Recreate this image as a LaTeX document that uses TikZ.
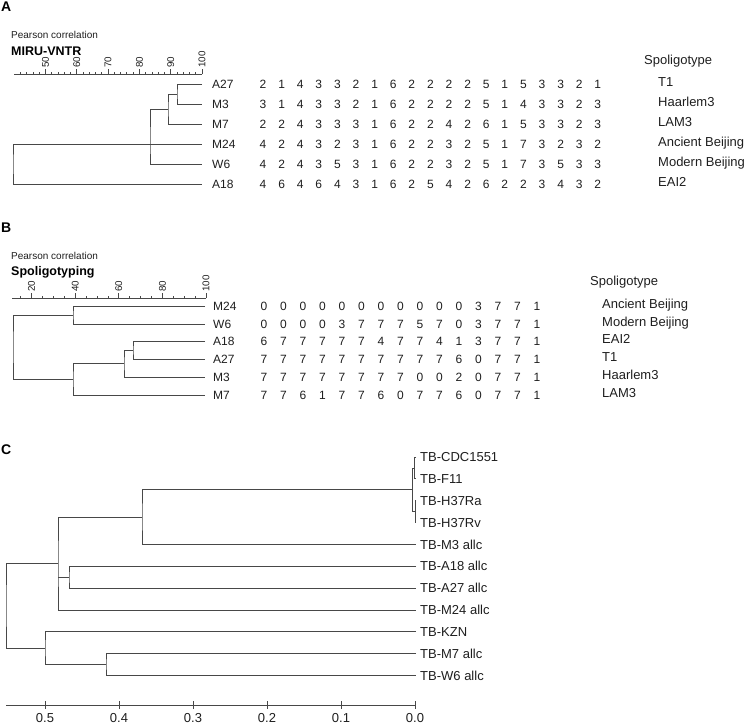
\documentclass[tikz,border=0pt]{standalone}
\usepackage{fontspec}
\setmainfont{Liberation Sans}
\usepackage{xcolor}
\definecolor{treecol}{RGB}{72,72,72}
\definecolor{inkcol}{RGB}{30,30,30}
\newcommand{\fsz}[1]{\fontsize{#1}{#1}\selectfont}

\begin{document}
\begin{tikzpicture}[x=1pt, y=-1pt,
  tree/.style={treecol, line width=0.8pt},
  panel/.style={anchor=west, inner sep=0pt, font=\bfseries\fsz{14}, text=black},
  note/.style={anchor=west, inner sep=0pt, font=\fsz{10}, text=inkcol},
  heading/.style={anchor=west, inner sep=0pt, font=\bfseries\fsz{12.5}, text=black},
  ticklbl/.style={anchor=west, rotate=90, inner sep=0pt, font=\fsz{9.8}, text=inkcol},
  leaf/.style={anchor=base west, inner sep=0pt, font=\fsz{12}, text=inkcol},
  digit/.style={anchor=base, inner sep=0pt, font=\fsz{12}, text=inkcol},
  spol/.style={anchor=base west, inner sep=0pt, font=\fsz{13}, text=inkcol},
  scalelbl/.style={anchor=base, inner sep=0pt, font=\fsz{13}, text=inkcol}]

\useasboundingbox (0,0) rectangle (746,726);

% ------------------------------------------------------------------
% Panel A: MIRU-VNTR dendrogram (Pearson correlation)
% ------------------------------------------------------------------
\node[panel] (labA) at (1,7) {A};
\node[note] (pearA) at (11,35) {Pearson correlation};
\node[heading] (headA) at (11,51) {MIRU-VNTR};

\draw[tree] (14,74) -- (202,74);
\foreach \v in {42,44,...,100}
  \draw[tree] ({202-(100-\v)*3.13},74) -- ++(0,-2.5);
\foreach \v in {50,60,...,100}{
  \draw[tree] ({202-(100-\v)*3.13},74) -- ++(0,-5);
  \node[ticklbl] (tA\v) at ({202-(100-\v)*3.13},68) {\v};
}

\foreach \n/\y in {A27/84, M3/104, M7/124, M24/144, W6/164, A18/184}{
  \coordinate (ea\n) at (202,\y);
  \node[leaf] (la\n) at (212,\y+4.3) {\n};
}

\coordinate (ja1) at (177,94);
\coordinate (ja2) at (168,109);
\coordinate (ja3) at (150,144);
\coordinate (ja4) at (13,164);
\draw[tree] (eaA27) -| (ja1) |- (eaM3);
\draw[tree] (ja1) -| (ja2) |- (eaM7);
\draw[tree] (ja2) -| (ja3) |- (eaW6);
\draw[tree] (ja3) -- (eaM24);
\draw[tree] (ja3) -| (ja4) |- (eaA18);

% allele copy numbers, one row per isolate
\foreach \y/\vals in {
   84/{2,1,4,3,3,2,1,6,2,2,2,2,5,1,5,3,3,2,1},
  104/{3,1,4,3,3,2,1,6,2,2,2,2,5,1,4,3,3,2,3},
  124/{2,2,4,3,3,3,1,6,2,2,4,2,6,1,5,3,3,2,3},
  144/{4,2,4,3,2,3,1,6,2,2,3,2,5,1,7,3,2,3,2},
  164/{4,2,4,3,5,3,1,6,2,2,3,2,5,1,7,3,5,3,3},
  184/{4,6,4,6,4,3,1,6,2,5,4,2,6,2,2,3,4,3,2}}{
  \foreach \v [count=\i] in \vals
    \node[digit] (dA\y-\i) at ({263+(\i-1)*18.6},\y+4.3) {\v};
}

\node[spol] (spA) at (644,64) {Spoligotype};
\foreach \k/\y/\s in {1/84/T1, 2/104/Haarlem3, 3/124/LAM3,
                      4/144/Ancient Beijing, 5/164/Modern Beijing, 6/184/EAI2}
  \node[spol] (sA\k) at (658,\y+2.5) {\s};

% ------------------------------------------------------------------
% Panel B: spoligotyping dendrogram
% ------------------------------------------------------------------
\node[panel] (labB) at (1,228) {B};
\node[note] (pearB) at (11,256) {Pearson correlation};
\node[heading] (headB) at (11,272) {Spoligotyping};

\draw[tree] (12,298) -- (206,298);
\foreach \v in {15,20,...,100}
  \draw[tree] ({206-(100-\v)*2.18},298) -- ++(0,-2.5);
\foreach \v in {20,40,...,100}{
  \draw[tree] ({206-(100-\v)*2.18},298) -- ++(0,-5);
  \node[ticklbl] (tB\v) at ({206-(100-\v)*2.18},292) {\v};
}

\foreach \n/\y in {M24/306, W6/324, A18/341, A27/359, M3/377, M7/395}{
  \coordinate (eb\n) at (205,\y);
  \node[leaf] (lb\n) at (213,\y+4.3) {\n};
}

\coordinate (jb1) at (73,315);
\coordinate (jb2) at (133,350);
\coordinate (jb3) at (124,363.5);
\coordinate (jb4) at (73,379);
\coordinate (jb5) at (13,347);
\draw[tree] (ebM24) -| (jb1) |- (ebW6);
\draw[tree] (ebA18) -| (jb2) |- (ebA27);
\draw[tree] (jb2) -| (jb3) |- (ebM3);
\draw[tree] (jb3) -| (jb4) |- (ebM7);
\draw[tree] (jb1) -| (jb5) |- (jb4);

\foreach \y/\vals in {
  306/{0,0,0,0,0,0,0,0,0,0,0,3,7,7,1},
  324/{0,0,0,0,3,7,7,7,5,7,0,3,7,7,1},
  341/{6,7,7,7,7,7,4,7,7,4,1,3,7,7,1},
  359/{7,7,7,7,7,7,7,7,7,7,6,0,7,7,1},
  377/{7,7,7,7,7,7,7,7,0,0,2,0,7,7,1},
  395/{7,7,6,1,7,7,6,0,7,7,6,0,7,7,1}}{
  \foreach \v [count=\i] in \vals
    \node[digit] (dB\y-\i) at ({264+(\i-1)*19.5},\y+4.3) {\v};
}

\node[spol] (spB) at (590,285) {Spoligotype};
\foreach \k/\y/\s in {1/306/Ancient Beijing, 2/324/Modern Beijing, 3/341/EAI2,
                      4/359/T1, 5/377/Haarlem3, 6/395/LAM3}
  \node[spol] (sB\k) at (602,\y+2) {\s};

% ------------------------------------------------------------------
% Panel C: genome distance tree
% ------------------------------------------------------------------
\node[panel] (labC) at (1,450) {C};

\foreach \k/\s [count=\r from 0] in {cdc/TB-CDC1551, f11/TB-F11, ra/TB-H37Ra,
    rv/TB-H37Rv, m3/TB-M3 allc, a18/TB-A18 allc, a27/TB-A27 allc,
    m24/TB-M24 allc, kzn/TB-KZN, m7/TB-M7 allc, w6/TB-W6 allc}{
  \coordinate (ec\k) at (416,{457+\r*21.85});
  \node[spol] (lc\k) at (420,{457+\r*21.85+4.6}) {\s};
}

\coordinate (jc1) at (414.5,467.9);
\coordinate (jc2) at (415.4,511.6);
\coordinate (jc3) at (412.8,489.8);
\coordinate (jc4) at (142,517.1);
\coordinate (jc5) at (69,577.2);
\coordinate (jc6) at (58,563.5);
\coordinate (jc7) at (106,664.6);
\coordinate (jc8) at (45,648.2);
\coordinate (jc9) at (6,605.9);
\draw[tree] (eccdc) -| (jc1) |- (ecf11);
\draw[tree] (ecra) -| (jc2) |- (ecrv);
\draw[tree] (jc1) -| (jc3) |- (jc2);
\draw[tree] (jc3) -| (jc4) |- (ecm3);
\draw[tree] (eca18) -| (jc5) |- (eca27);
\draw[tree] (jc4) -| (jc6) |- (ecm24);
\draw[tree] (jc5) -- (jc5 -| jc6);
\draw[tree] (ecm7) -| (jc7) |- (ecw6);
\draw[tree] (eckzn) -| (jc8) |- (jc7);
\draw[tree] (jc6) -| (jc9) |- (jc8);

% distance scale
\draw[tree] (6,705) -- (415,705);
\foreach \v/\t in {0/0.0, 1/0.1, 2/0.2, 3/0.3, 4/0.4, 5/0.5}{
  \draw[tree] ({415-\v*74},701) -- ({415-\v*74},709);
  \node[scalelbl] (sc\v) at ({415-\v*74},722) {\t};
}

\end{tikzpicture}
\end{document}
